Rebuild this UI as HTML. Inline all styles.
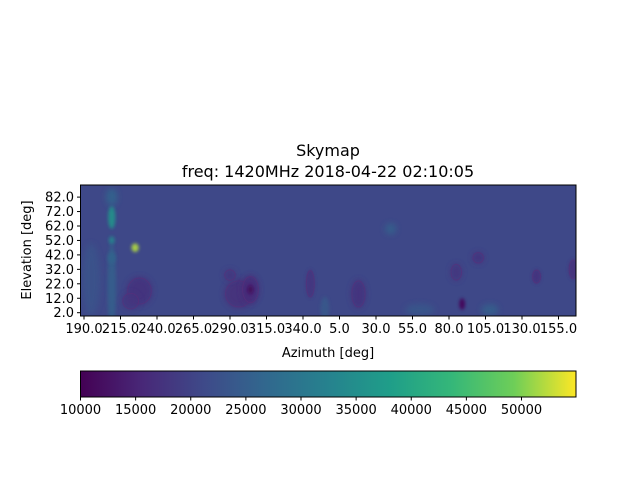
<!DOCTYPE html>
<html><head><meta charset="utf-8"><style>
body{margin:0;background:#fff;font-family:"Liberation Sans","DejaVu Sans",sans-serif}
</style></head><body>
<svg id="fig" width="640" height="480" xmlns="http://www.w3.org/2000/svg" font-family="DejaVu Sans, Liberation Sans, sans-serif">
<defs>
<filter id="blur" x="-50%" y="-50%" width="200%" height="200%"><feGaussianBlur stdDeviation="3"/></filter>
<filter id="blur2" x="-50%" y="-50%" width="200%" height="200%"><feGaussianBlur stdDeviation="1.5"/></filter>
<clipPath id="clip"><rect x="80.5" y="185" width="495.5" height="131"/></clipPath>
<linearGradient id="cbar" x1="0" x2="1" y1="0" y2="0">
<stop offset="0" stop-color="#440154"/><stop offset="0.125" stop-color="#482878"/><stop offset="0.25" stop-color="#3e4a89"/><stop offset="0.375" stop-color="#31688e"/><stop offset="0.5" stop-color="#26828e"/><stop offset="0.625" stop-color="#1f9e89"/><stop offset="0.75" stop-color="#35b779"/><stop offset="0.875" stop-color="#6ece58"/><stop offset="1" stop-color="#fde725"/>
</linearGradient>
</defs>
<text x="328" y="156" text-anchor="middle" font-size="16">Skymap</text>
<text x="328" y="177" text-anchor="middle" font-size="16">freq: 1420MHz 2018-04-22 02:10:05</text>
<g id="plot" clip-path="url(#clip)"></g>
<rect x="80.5" y="185" width="495.5" height="131" fill="none" stroke="#000" stroke-width="1"/>
<g id="xaxis"></g>
<g id="yaxis"></g>
<text x="328" y="357" text-anchor="middle" font-size="13">Azimuth [deg]</text>
<text transform="translate(31,250) rotate(-90)" text-anchor="middle" font-size="13">Elevation [deg]</text>
<rect x="80.5" y="371" width="495.5" height="26" fill="url(#cbar)" stroke="#000" stroke-width="1"/>
<g id="cbaxis"></g>
</svg>
<script>
const xTicks=[190,215,240,265,290,315,340,5,30,55,80,105,130,155];
const yTicks=[2,12,22,32,42,52,62,72,82];
const cbTicks=[10000,15000,20000,25000,30000,35000,40000,45000,50000];
const baseValue=21000;
// hotspots: azimuth, elevation, value
const blobAz=[209,209,209,209,225,228,222,195,296,304,304,290,345,355,18,40,85,89,108,140,165,60,100,209];
const blobEl=[68,52,20,82,47,17,10,25,15,18,18,28,22,5,15,60,30,8,4,27,32,4,40,40];
const blobVal=[36000,33000,25000,26000,52000,17500,18000,23000,17000,16000,11000,18000,18000,24000,17500,25000,18000,10500,25000,17500,17000,23500,17500,26000];
const blobRx=[2.5,2,3,4,2.5,9,6,6,10,6,2,4,3,3,5,4,4,2,6,3,3,10,4,3];
const blobRy=[8,3,30,6,3,10,6,25,10,10,3,4,10,8,10,4,6,4,4,5,7,4,4,4];
const NS="http://www.w3.org/2000/svg";
const X0=84,XS=36.5/25,Y0=312.7,YS=1.445,CB0=80.5,CBS=(521.5-80.5)/40000;
function xs(az){const u=az<190?az+360:az;return X0+(u-190)*XS;}
function ys(el){return Y0-(el-2)*YS;}
const stops=[[68,1,84],[72,40,120],[62,74,137],[49,104,142],[38,130,142],[31,158,137],[53,183,121],[110,206,88],[253,231,37]];
function viridis(v){let t=(v-10000)/45000;t=Math.max(0,Math.min(1,t))*8;const i=Math.min(7,Math.floor(t)),f=t-i;const a=stops[i],b=stops[i+1];return `rgb(${a.map((c,k)=>Math.round(c+(b[k]-c)*f)).join(',')})`;}
function mk(tag,attrs,parent){const e=document.createElementNS(NS,tag);for(const k in attrs)e.setAttribute(k,attrs[k]);parent.appendChild(e);return e;}
const plot=document.getElementById('plot');
const bg=mk('rect',{x:80,y:185,width:497,height:131,fill:viridis(baseValue)},plot);


for(let i=0;i<blobAz.length;i++){
 const e=mk('ellipse',{cx:xs(blobAz[i]),cy:ys(blobEl[i]),rx:blobRx[i]*XS,ry:blobRy[i]*YS,fill:viridis(blobVal[i]),filter:blobRx[i]<4?'url(#blur2)':'url(#blur)',opacity:0.9},plot);
 
 
 if(blobVal[i]<18500&&blobRx[i]>2){const c=mk('ellipse',{cx:xs(blobAz[i]),cy:ys(blobEl[i]),rx:blobRx[i]*XS*0.9,ry:blobRy[i]*YS*0.9,fill:'none',stroke:'#5a2f7a',"stroke-width":1,opacity:0.6},plot);
 
 }
}
const xa=document.getElementById('xaxis');
xTicks.forEach(v=>{const x=xs(v);mk('line',{x1:x,x2:x,y1:316,y2:319.5,stroke:'#000'},xa);
 const t=mk('text',{x:x,y:333,"text-anchor":"middle","font-size":13},xa);t.textContent=v.toFixed(1);
 
 });
const ya=document.getElementById('yaxis');
yTicks.forEach(v=>{const y=ys(v);mk('line',{x1:80.5,x2:77,y1:y,y2:y,stroke:'#000'},ya);
 const t=mk('text',{x:74,y:y+4.5,"text-anchor":"end","font-size":13},ya);t.textContent=v.toFixed(1);
 
 });
const ca=document.getElementById('cbaxis');
cbTicks.forEach(v=>{const x=CB0+(v-10000)*CBS;mk('line',{x1:x,x2:x,y1:397,y2:400.5,stroke:'#000'},ca);
 const t=mk('text',{x:x,y:414,"text-anchor":"middle","font-size":13},ca);t.textContent=v;
 
 });
</script>
</body></html>
